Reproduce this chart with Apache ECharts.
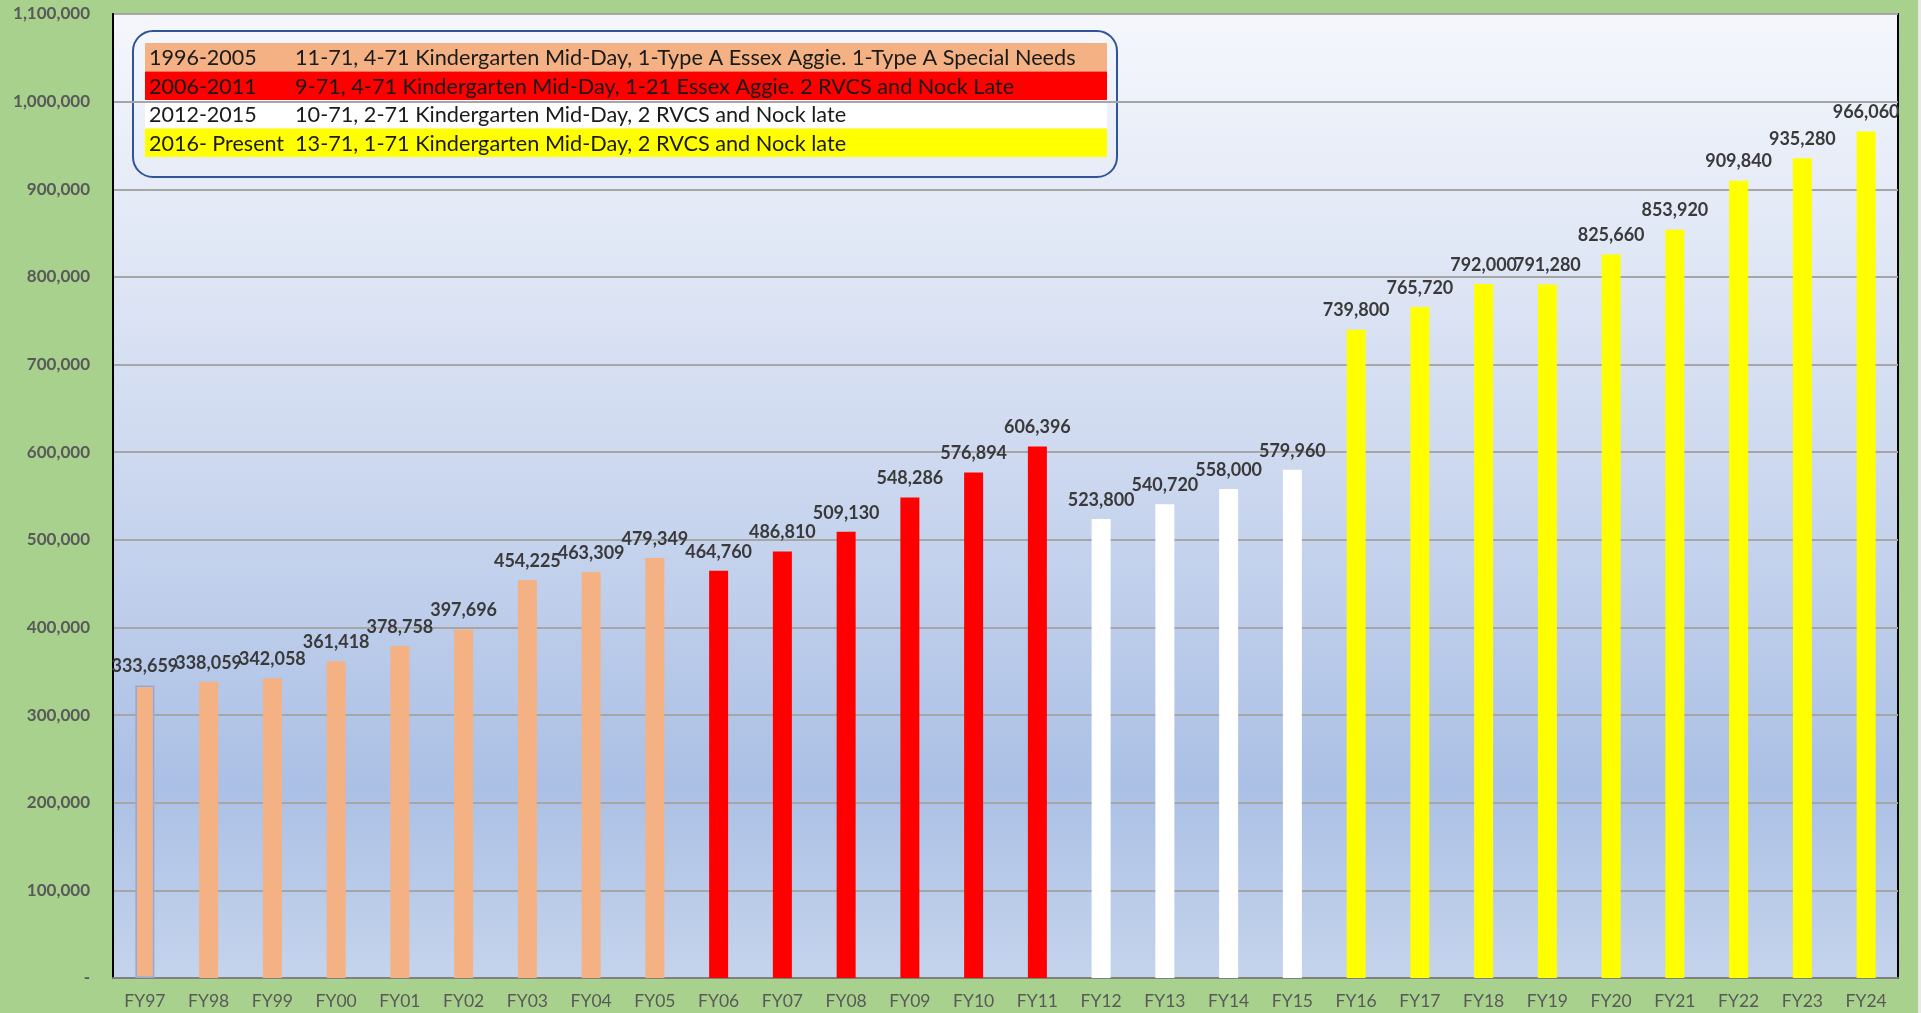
<!DOCTYPE html>
<html>
<head>
<meta charset="utf-8">
<script src="https://cdn.jsdelivr.net/npm/echarts@6/dist/echarts.min.js"></script>
<style>
  html, body { margin: 0; padding: 0; background: #A9D18E; }
  #chart { width: 1921px; height: 1013px; }
</style>
</head>
<body>
<div id="chart"></div>
<script>
const categories = ['FY97', 'FY98', 'FY99', 'FY00', 'FY01', 'FY02', 'FY03', 'FY04', 'FY05',
  'FY06', 'FY07', 'FY08', 'FY09', 'FY10', 'FY11',
  'FY12', 'FY13', 'FY14', 'FY15',
  'FY16', 'FY17', 'FY18', 'FY19', 'FY20', 'FY21', 'FY22', 'FY23', 'FY24'];

const values = [333659, 338059, 342058, 361418, 378758, 397696, 454225, 463309, 479349,
  464760, 486810, 509130, 548286, 576894, 606396,
  523800, 540720, 558000, 579960,
  739800, 765720, 792000, 791280, 825660, 853920, 909840, 935280, 966060];

// period index of each bar (matches legend rows)
const periodOf = [0, 0, 0, 0, 0, 0, 0, 0, 0,
  1, 1, 1, 1, 1, 1,
  2, 2, 2, 2,
  3, 3, 3, 3, 3, 3, 3, 3, 3];

const periodLabels = ['1996-2005', '2006-2011', '2012-2015', '2016- Present'];
const periodNotes = [
  '11-71, 4-71 Kindergarten Mid-Day, 1-Type A Essex Aggie. 1-Type A Special Needs',
  '9-71, 4-71 Kindergarten Mid-Day, 1-21 Essex Aggie. 2 RVCS and Nock Late',
  '10-71, 2-71 Kindergarten Mid-Day, 2 RVCS and Nock late',
  '13-71, 1-71 Kindergarten Mid-Day, 2 RVCS and Nock late'
];
const periodColors = ['#F4B183', '#FF0000', '#FFFFFF', '#FFFF00'];

const chart = echarts.init(document.getElementById('chart'));

const fmt = v => v === 0 ? '-' : v.toLocaleString('en-US');

// legend table drawn as graphics
const legendRows = [];
const rowTop = 43, rowH = 28.5;
periodLabels.forEach((p, i) => {
  legendRows.push({
    type: 'rect',
    shape: { x: 145, y: rowTop + i * rowH, width: 962, height: rowH },
    style: { fill: periodColors[i] },
    silent: true
  });
  legendRows.push({
    type: 'text',
    x: 149, y: rowTop + i * rowH + rowH / 2 + 1,
    style: { text: p, fill: '#1a1a1a', font: '21.5px Lato', verticalAlign: 'middle' },
    silent: true
  });
  legendRows.push({
    type: 'text',
    x: 295, y: rowTop + i * rowH + rowH / 2 + 1,
    style: { text: periodNotes[i], fill: '#1a1a1a', font: '21.7px Lato', verticalAlign: 'middle' },
    silent: true
  });
});

const option = {
  backgroundColor: '#A9D18E',
  animation: false,
  grid: {
    left: 113, right: 23, top: 14, bottom: 35,
    show: true,
    borderColor: '#000',
    borderWidth: 2,
    backgroundColor: {
      type: 'linear', x: 0, y: 0, x2: 0, y2: 1,
      colorStops: [
        { offset: 0, color: '#F5F7FC' },
        { offset: 0.45, color: '#CFDAF0' },
        { offset: 0.8, color: '#ABC0E5' },
        { offset: 1, color: '#C5D4EC' }
      ]
    }
  },
  xAxis: {
    type: 'category',
    data: categories,
    axisLine: { show: true, lineStyle: { color: '#808080', width: 2 } },
    axisTick: { show: false },
    axisLabel: { color: '#595959', fontFamily: 'Lato', fontSize: 17.5, margin: 14 }
  },
  yAxis: {
    type: 'value',
    min: 0,
    max: 1100000,
    interval: 100000,
    axisLine: { show: true, lineStyle: { color: '#000', width: 2 } },
    axisTick: { show: false },
    splitLine: { lineStyle: { color: '#A6A6A6', width: 2 } },
    axisLabel: {
      formatter: fmt,
      color: '#595959', fontFamily: 'Lato', fontWeight: 'bold', fontSize: 17, margin: 23
    }
  },
  series: [{
    type: 'bar',
    barWidth: 19,
    data: values.map((v, i) => ({
      value: v,
      itemStyle: i === 0
        ? { color: periodColors[periodOf[i]], borderColor: '#8FAADC', borderWidth: 1.5 }
        : { color: periodColors[periodOf[i]] }
    })),
    label: {
      show: true,
      position: 'top',
      distance: 10,
      formatter: p => fmt(p.value),
      color: '#3a3a3a',
      fontFamily: 'Lato',
      fontWeight: 'bold',
      fontSize: 18
    }
  }],
  graphic: [
    {
      type: 'rect',
      shape: { x: 133, y: 31, width: 984, height: 146, r: 20 },
      style: { fill: 'rgba(0,0,0,0)', stroke: '#2F5597', lineWidth: 2 },
      silent: true
    },
    ...legendRows,
    {
      type: 'rect',
      shape: { x: 1918, y: 0, width: 3, height: 1013 },
      style: { fill: '#E8E8E8' },
      silent: true
    }
  ]
};

chart.setOption(option);
</script>
</body>
</html>
